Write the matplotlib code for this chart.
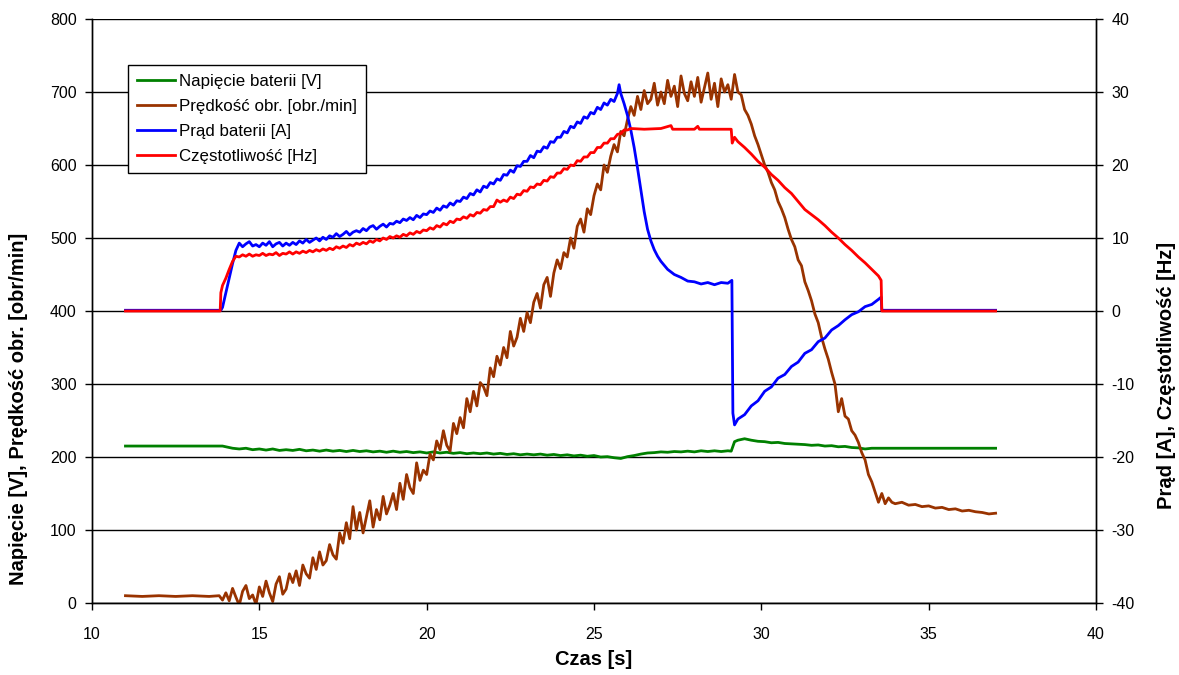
import matplotlib
matplotlib.use("Agg")
import matplotlib.pyplot as plt
import numpy as np

plt.rcParams['font.family'] = ['Liberation Sans', 'DejaVu Sans']
plt.rcParams['axes.unicode_minus'] = False

# ---- data ----
# battery voltage [V] (left axis)
volt_t = [11.0, 13.9, 14.0, 14.2, 14.4, 14.6, 14.8, 15.0, 15.2, 15.4, 15.6, 15.8,
          16.0, 16.2, 16.4, 16.6, 16.8, 17.0, 17.2, 17.4, 17.6, 17.8,
          18.0, 18.2, 18.4, 18.6, 18.8, 19.0, 19.2, 19.4, 19.6, 19.8,
          20.0, 20.2, 20.4, 20.6, 20.8, 21.0, 21.2, 21.4, 21.6, 21.8,
          22.0, 22.2, 22.4, 22.6, 22.8, 23.0, 23.2, 23.4, 23.6, 23.8,
          24.0, 24.2, 24.4, 24.6, 24.8, 25.0, 25.2, 25.4, 25.6, 25.8,
          26.0, 26.2, 26.4, 26.6, 26.8, 27.0, 27.2, 27.4, 27.6, 27.8,
          28.0, 28.2, 28.4, 28.6, 28.8, 29.0, 29.1,
          29.2, 29.3, 29.5, 29.7, 29.9, 30.1, 30.3, 30.5, 30.7, 30.9,
          31.1, 31.3, 31.5, 31.7, 31.9, 32.1, 32.3, 32.5, 32.7, 32.9,
          33.1, 33.3, 33.4, 37.0]
volt_v = [215, 215, 214, 212, 211, 212, 210, 211, 209.5, 211, 209, 210,
          209, 210.5, 208.5, 209.5, 208, 209.5, 208, 209, 207.5, 209,
          207.5, 208.5, 207, 208, 206.5, 208, 206.5, 207.5, 206, 207,
          205.5, 207, 205.5, 206.5, 205, 206, 204.5, 205.5, 204.5, 205.5,
          204, 205, 203.5, 204.5, 203, 204, 203, 204, 202.5, 203.5,
          202, 203, 201.5, 202.5, 201, 202, 200, 200.5, 199, 198,
          200.5, 202, 204, 205.5, 206, 207, 206.5, 207.5, 207, 208,
          207, 208.5, 207.5, 208.5, 207.5, 208.5, 208,
          221, 223, 225, 223, 221.5, 221, 219.5, 220, 218.5, 218,
          217.5, 217, 216, 216.5, 215, 215.5, 214, 214.5, 213, 212.5,
          211, 212, 212, 212]

# rotational speed [obr/min] (left axis)
speed_head_t = [11.0, 11.5, 12.0, 12.5, 13.0, 13.5, 13.8, 13.9]
speed_head_v = [10, 9, 10, 9, 10, 9, 10, 4]
# samples every 0.1 s from 14.0 s to 33.9 s, one row per second
speed_mid_v = [
    14, 3, 20, 8, -3, 16, 24, 6, 11, -2,
    22, 9, 30, 14, 2, 26, 36, 12, 19, 40,
    28, 44, 24, 52, 40, 34, 62, 46, 70, 52,
    58, 80, 66, 60, 96, 82, 110, 88, 132, 100,
    124, 96, 118, 140, 104, 128, 114, 146, 122, 134,
    150, 128, 164, 142, 176, 158, 150, 192, 168, 182,
    176, 204, 196, 222, 210, 236, 216, 208, 246, 232,
    254, 240, 280, 262, 290, 270, 302, 296, 284, 322,
    310, 338, 326, 350, 336, 372, 352, 364, 390, 372,
    398, 384, 412, 424, 404, 436, 446, 420, 452, 470,
    458, 480, 474, 500, 486, 516, 526, 508, 540, 532,
    558, 574, 566, 600, 590, 612, 628, 618, 646, 640,
    662, 680, 668, 694, 676, 702, 684, 690, 712, 682,
    700, 684, 716, 694, 708, 680, 722, 698, 688, 714,
    694, 720, 686, 706, 726, 690, 712, 680, 718, 700,
    710, 690, 724, 700, 696, 676, 668, 656, 640, 628,
    614, 600, 590, 576, 566, 550, 540, 528, 512, 498,
    488, 470, 462, 440, 428, 414, 396, 384, 364, 348,
    334, 316, 300, 262, 280, 256, 252, 236, 230, 220,
    206, 196, 176, 166, 152, 138, 150, 136, 144, 138,
]
# samples every 0.2 s from 34.0 s to 37.0 s
speed_tail_v = [136, 138, 134, 135, 132, 133, 130, 131, 128, 129, 126, 127,
                125, 124, 122, 123]

# battery current [A] (right axis)
cur_head_t = [11.0, 13.85, 13.9, 14.0, 14.1, 14.2, 14.3]
cur_head_v = [0.1, 0.1, 0.5, 2.5, 4.5, 6.5, 8.3]
# samples every 0.1 s from 14.4 s to 25.7 s
cur_rise_v = [
    9.3, 8.8, 9.2, 9.5, 8.9, 9.1,
    8.8, 9.3, 9.0, 9.5, 8.8, 9.2, 9.4, 8.9, 9.3, 9.0,
    9.4, 9.1, 9.6, 9.3, 9.8, 9.4, 9.7, 10.0, 9.6, 10.1,
    9.8, 10.3, 10.1, 10.6, 10.2, 10.5, 10.9, 10.4, 10.8, 11.0,
    10.8, 11.3, 11.0, 11.5, 11.7, 11.2, 11.6, 11.9, 11.5, 12.0,
    11.9, 12.3, 12.1, 12.6, 12.4, 12.8, 12.5, 13.1, 12.8, 13.3,
    13.2, 13.7, 13.5, 14.1, 13.8, 14.4, 14.2, 14.8, 14.5, 15.1,
    15.0, 15.6, 15.4, 16.1, 15.9, 16.6, 16.3, 17.1, 16.9, 17.6,
    17.4, 18.1, 17.9, 18.7, 18.6, 19.3, 19.0, 19.9, 19.8, 20.5,
    20.5, 21.3, 21.0, 21.9, 21.8, 22.5, 22.3, 23.2, 23.1, 23.8,
    23.8, 24.6, 24.4, 25.3, 25.1, 25.9, 25.7, 26.6, 26.4, 27.2,
    27.0, 27.9, 27.6, 28.5, 28.2, 29.0, 28.7, 29.8,
]
cur_tail_t = [25.75, 25.8, 25.9, 26.0, 26.1, 26.2, 26.3, 26.4, 26.5, 26.6, 26.7,
              26.8, 26.9, 27.0, 27.2, 27.4, 27.6, 27.8, 28.0, 28.2, 28.4, 28.6,
              28.8, 29.0, 29.12,
              29.15, 29.2, 29.3, 29.5, 29.7, 29.9, 30.1, 30.3, 30.5, 30.7, 30.9,
              31.1, 31.3, 31.5, 31.7, 31.9, 32.1, 32.3, 32.5, 32.7, 32.9, 33.1,
              33.3, 33.5, 33.58, 33.6, 37.0]
cur_tail_v = [31.0, 29.8, 28.4, 26.8, 24.8, 22.4, 19.6, 16.6, 13.6, 11.2, 9.6,
              8.4, 7.5, 6.8, 5.7, 5.0, 4.6, 4.1, 4.0, 3.7, 3.9, 3.6,
              3.9, 3.8, 4.2,
              -14.0, -15.6, -14.8, -14.2, -13.0, -12.3, -11.0, -10.4, -9.2, -8.7, -7.6,
              -7.0, -5.8, -5.3, -4.2, -3.7, -2.6, -2.0, -1.2, -0.5, -0.1, 0.6,
              0.9, 1.6, 1.9, 0.1, 0.1]

# frequency [Hz] (right axis)
freq_head_t = [11.0, 13.83, 13.85, 13.9, 14.0, 14.1, 14.2, 14.3]
freq_head_v = [0.0, 0.0, 2.5, 3.5, 4.5, 5.7, 6.8, 7.5]
# samples every 0.1 s from 14.4 s to 26.0 s
freq_rise_v = [
    7.4, 7.7, 7.5, 7.8, 7.5, 7.7, 7.6, 7.9, 7.6, 7.8, 7.7, 8.0, 7.6, 7.9, 7.8, 8.1,
    7.8, 8.1, 7.9, 8.2, 8.0, 8.3, 8.1, 8.4, 8.2, 8.5,
    8.3, 8.6, 8.4, 8.8, 8.6, 8.9, 8.7, 9.1, 8.9, 9.3,
    9.1, 9.4, 9.2, 9.6, 9.4, 9.8, 9.6, 10.0, 9.8, 10.2,
    10.0, 10.3, 10.1, 10.5, 10.3, 10.7, 10.5, 10.9, 10.7, 11.1,
    11.0, 11.4, 11.2, 11.7, 11.5, 12.0, 11.8, 12.3, 12.1, 12.6,
    12.5, 12.9, 12.7, 13.2, 13.0, 13.5, 13.4, 13.9, 13.8, 14.3,
    14.3, 15.2, 14.9, 15.2, 15.0, 15.6, 15.4, 16.0, 15.9, 16.5,
    16.4, 17.0, 16.9, 17.4, 17.3, 17.9, 17.8, 18.4, 18.3, 18.9,
    18.9, 19.5, 19.4, 20.0, 19.9, 20.6, 20.5, 21.1, 21.1, 21.7,
    21.7, 22.4, 22.4, 23.0, 23.0, 23.6, 23.6, 24.2, 24.3, 24.8,
    24.8,
]
freq_tail_t = [26.1, 26.5, 27.0, 27.3, 27.35, 28.0, 28.1, 28.15, 29.1,
               29.13, 29.2, 29.3, 29.5, 29.7, 29.9, 30.1, 30.3, 30.5, 30.7, 30.9,
               31.1, 31.3, 31.5, 31.7, 31.9, 32.1, 32.3, 32.5, 32.7, 32.9,
               33.1, 33.3, 33.5, 33.58, 33.6, 37.0]
freq_tail_v = [25.0, 24.9, 25.0, 25.4, 24.9, 24.9, 25.3, 24.9, 24.9,
               23.0, 23.8, 23.2, 22.4, 21.5, 20.5, 19.7, 18.7, 17.9, 16.9, 16.1,
               15.0, 13.9, 13.2, 12.5, 11.7, 10.8, 10.0, 9.1, 8.3, 7.4,
               6.6, 5.7, 4.8, 4.2, 0.0, 0.0]

labels = ['Napięcie baterii [V]', 'Prędkość obr. [obr./min]',
          'Prąd baterii [A]', 'Częstotliwość [Hz]']
colors = ['#008000', '#993300', '#0000FF', '#FF0000']

# assemble the sampled pieces
speed_t = np.concatenate([speed_head_t,
                          14.0 + 0.1 * np.arange(len(speed_mid_v)),
                          34.0 + 0.2 * np.arange(len(speed_tail_v))])
speed_v = np.concatenate([speed_head_v, speed_mid_v, speed_tail_v])
cur_t = np.concatenate([cur_head_t, 14.4 + 0.1 * np.arange(len(cur_rise_v)), cur_tail_t])
cur_v = np.concatenate([cur_head_v, cur_rise_v, cur_tail_v])
freq_t = np.concatenate([freq_head_t, 14.4 + 0.1 * np.arange(len(freq_rise_v)), freq_tail_t])
freq_v = np.concatenate([freq_head_v, freq_rise_v, freq_tail_v])

# ---- figure ----
fig = plt.figure(figsize=(11.79, 6.75), dpi=100)
ax = fig.add_axes([92 / 1179, 72 / 675, 1004 / 1179, 584 / 675])
ax2 = ax.twinx()

lw = 2.0
l1, = ax.plot(volt_t, volt_v, color=colors[0], lw=lw, label=labels[0])
l2, = ax.plot(speed_t, speed_v, color=colors[1], lw=lw, label=labels[1])
l3, = ax2.plot(cur_t, cur_v, color=colors[2], lw=lw, label=labels[2])
l4, = ax2.plot(freq_t, freq_v, color=colors[3], lw=lw, label=labels[3])

ax.set_xlim(10, 40)
ax.set_ylim(0, 800)
ax2.set_ylim(-40, 40)
ax.set_xticks(range(10, 41, 5))
ax.set_yticks(range(0, 801, 100))
ax2.set_yticks(range(-40, 41, 10))

ax.yaxis.grid(True, color='black', lw=1.0)
ax.set_axisbelow(True)
for a in (ax, ax2):
    a.spines['top'].set_visible(False)
    for s in ('left', 'right', 'bottom'):
        a.spines[s].set_color('black')
        a.spines[s].set_linewidth(1.0)
    a.tick_params(direction='out', length=5, width=1.0, labelsize=11.5, colors='black')
ax.tick_params(axis='x', pad=12)
ax.tick_params(axis='y', pad=6)
ax2.tick_params(axis='y', pad=6)

ax.set_xlabel('Czas [s]', fontsize=14.5, fontweight='bold')
ax.xaxis.label.set_va('center')
ax.xaxis.set_label_coords(0.5, -0.097)
ax.set_ylabel('Napięcie [V], Prędkość obr. [obr/min]', fontsize=14.5, fontweight='bold')
ax.yaxis.set_label_coords(-0.0637, 0.332)
ax2.set_ylabel('Prąd [A], Częstotliwość [Hz]', fontsize=14.5, fontweight='bold')
ax2.yaxis.set_label_coords(1.0608, 0.39)

leg = ax2.legend(handles=[l1, l2, l3, l4], loc='upper left',
                 bbox_to_anchor=(128 / 1179, 1 - 65 / 675), bbox_transform=fig.transFigure,
                 borderaxespad=0, fancybox=False, framealpha=1, edgecolor='black',
                 fontsize=12.2, handlelength=2.2, handletextpad=0.25, labelspacing=0.58,
                 borderpad=0.55)
leg.get_frame().set_linewidth(1.0)

fig.savefig('out.png', dpi=100)
